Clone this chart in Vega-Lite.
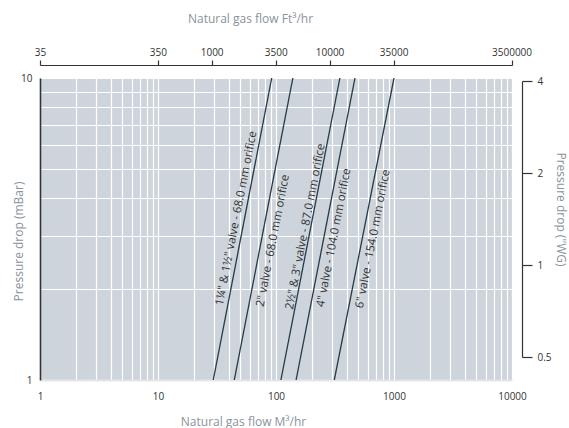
{
  "$schema": "https://vega.github.io/schema/vega-lite/v6.json",
  "width": 472,
  "height": 302,
  "autosize": "none",
  "padding": {"left": 40, "top": 78, "right": 57, "bottom": 48},
  "background": "white",
  "config": {
    "view": {"stroke": null, "fill": "#cdd4db"},
    "font": "Open Sans",
    "axis": {
      "labelFont": "Open Sans",
      "titleFont": "Open Sans",
      "labelFontSize": 10,
      "labelColor": "#333333",
      "titleFontSize": 12,
      "titleFontWeight": "normal",
      "titleColor": "#8a939b",
      "grid": false
    }
  },
  "datasets": {
    "valves": [
      {"valve": "A", "q": 29.4, "p": 1},
      {"valve": "A", "q": 92, "p": 10},
      {"valve": "B", "q": 44.3, "p": 1},
      {"valve": "B", "q": 139, "p": 10},
      {"valve": "C", "q": 110, "p": 1},
      {"valve": "C", "q": 348, "p": 10},
      {"valve": "D", "q": 148, "p": 1},
      {"valve": "D", "q": 467, "p": 10},
      {"valve": "E", "q": 312, "p": 1},
      {"valve": "E", "q": 1000, "p": 10}
    ],
    "labels": [
      {"label": "1¼\" & 1½\" valve - 68.0 mm orifice", "q": 46.4, "p": 3.43},
      {"label": "2\" valve - 68.0 mm orifice", "q": 94.9, "p": 2.89},
      {"label": "2½\" & 3\" valve - 87.0 mm orifice", "q": 178.9, "p": 3.22},
      {"label": "4\" valve - 104.0 mm orifice", "q": 311.4, "p": 2.96},
      {"label": "6\" valve - 154.0 mm orifice", "q": 667.6, "p": 2.93}
    ],
    "ft3": [
      {"f": 35}, {"f": 350}, {"f": 1000}, {"f": 3500}, {"f": 10000}, {"f": 35000}, {"f": 350000}
    ],
    "wg": [
      {"w": 0.5}, {"w": 1}, {"w": 2}, {"w": 4}
    ]
  },
  "layer": [
    {
      "data": {"name": "valves"},
      "mark": {"type": "line", "color": "#263a47", "strokeWidth": 1.3, "clip": true},
      "encoding": {
        "x": {
          "field": "q", "type": "quantitative",
          "scale": {"type": "log", "domain": [1, 10000]},
          "axis": {
            "orient": "bottom",
            "title": "Natural gas flow M³/hr",
            "values": [1,2,3,4,5,6,7,8,9,10,20,30,40,50,60,70,80,90,100,200,300,400,500,600,700,800,900,1000,2000,3000,4000,5000,6000,7000,8000,9000,10000],
            "labelExpr": "(datum.value==1||datum.value==10||datum.value==100||datum.value==1000||datum.value==10000) ? format(datum.value,'d') : ''",
            "grid": true, "gridColor": "#ffffff", "gridWidth": 1.2, "gridOpacity": 1,
            "ticks": false,
            "domainColor": "#e4e6e8", "domainWidth": 2,
            "labelPadding": 11,
            "labelFlush": false,
            "labelOverlap": false,
            "titleX": 203, "titleY": 41, "titleBaseline": "middle", "titleAlign": "center", "titleAnchor": null
          }
        },
        "y": {
          "field": "p", "type": "quantitative",
          "scale": {"type": "log", "domain": [1, 10]},
          "axis": {
            "orient": "left",
            "title": "Pressure drop (mBar)",
            "values": [1,2,3,4,5,6,7,8,9,10],
            "labelExpr": "(datum.value==1||datum.value==10) ? format(datum.value,'d') : ''",
            "grid": true, "gridColor": "#ffffff", "gridWidth": 1.2, "gridOpacity": 1,
            "ticks": false,
            "domainColor": "#333333", "domainWidth": 1.6,
            "labelPadding": 8,
            "labelFlush": false,
            "labelOverlap": false,
            "titleX": -22, "titleY": 163, "titleBaseline": "middle", "titleAlign": "center", "titleAnchor": null
          }
        },
        "detail": {"field": "valve"}
      }
    },
    {
      "data": {"name": "labels"},
      "mark": {"type": "text", "angle": -79, "align": "center", "baseline": "middle", "fontSize": 11.5, "color": "#333333", "font": "Open Sans"},
      "encoding": {
        "x": {"field": "q", "type": "quantitative", "scale": {"type": "log", "domain": [1, 10000]}, "axis": null},
        "y": {"field": "p", "type": "quantitative", "scale": {"type": "log", "domain": [1, 10]}, "axis": null},
        "text": {"field": "label"}
      }
    },
    {
      "data": {"name": "ft3"},
      "mark": {"type": "point", "opacity": 0},
      "encoding": {
        "x": {
          "field": "f", "type": "quantitative",
          "scale": {"type": "log", "domain": [35, 353147]},
          "axis": {
            "orient": "top",
            "title": "Natural gas flow Ft³/hr",
            "values": [35, 350, 1000, 3500, 10000, 35000, 350000],
            "labelExpr": "datum.value==350000 ? '3500000' : format(datum.value,'d')",
            "offset": 13,
            "domainColor": "#333333", "domainWidth": 1.2,
            "ticks": true, "tickColor": "#333333", "tickSize": 5, "tickWidth": 1.2,
            "labelPadding": 3,
            "labelFlush": false,
            "labelOverlap": false,
            "titleX": 210, "titleY": -47, "titleBaseline": "middle", "titleAlign": "center", "titleAnchor": null
          }
        }
      }
    },
    {
      "data": {"name": "wg"},
      "mark": {"type": "point", "opacity": 0},
      "encoding": {
        "y": {
          "field": "w", "type": "quantitative",
          "scale": {"type": "log", "domain": [0.5, 4], "range": [279, 3]},
          "axis": {
            "orient": "right",
            "title": "Pressure drop (\"WG)",
            "values": [0.5, 1, 2, 4],
            "offset": 10,
            "domainColor": "#333333", "domainWidth": 1.2,
            "ticks": true, "tickColor": "#333333", "tickSize": 10, "tickWidth": 1.2,
            "labelPadding": 5,
            "labelFlush": false,
            "labelOverlap": false,
            "titleAngle": 90,
            "titleX": 38, "titleY": 131, "titleBaseline": "middle", "titleAlign": "center", "titleAnchor": null
          }
        }
      }
    }
  ],
  "resolve": {"scale": {"x": "independent", "y": "independent"}}
}
